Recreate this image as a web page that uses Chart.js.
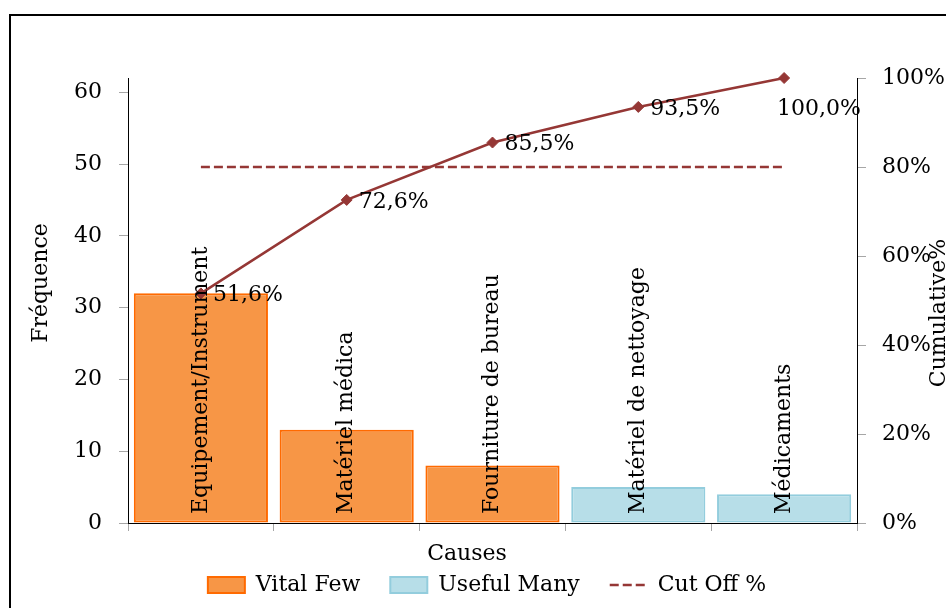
<!DOCTYPE html>
<html lang="fr">
<head>
    <meta charset="UTF-8">
    <title>Diagramme de Pareto</title>
    <script src="https://cdn.jsdelivr.net/npm/chart.js"></script>
    <style>
        html, body { margin: 0; padding: 0; background: #fff; overflow: hidden; }
        #wrap { position: relative; width: 946px; height: 608px; }
        #frame { position: absolute; left: 9px; top: 14px; width: 1000px; height: 700px; border: 2px solid #000; pointer-events: none; }
    </style>
</head>
<body>
    <div id="wrap">
        <div id="frame"></div>
        <canvas id="paretoChart"></canvas>
    </div>

    <script>
        // Données
        const categories = ['Equipement/Instrument', 'Matériel médica', 'Fourniture de bureau', 'Matériel de nettoyage', 'Médicaments'];
        const vitalFew = [32, 13, 8, null, null];
        const usefulMany = [null, null, null, 5, 4];
        const cumulative = [51.6, 72.6, 85.5, 93.5, 100.0];
        const cutOff = [80, 80, 80, 80, 80];
        const freqMax = 62;

        const FONT = '"DejaVu Serif", serif';
        const SIZE = 22;
        Chart.defaults.font.family = FONT;
        Chart.defaults.font.size = SIZE;
        Chart.defaults.color = '#000';

        const red = '#953735';

        // Writes category names inside the bars, % labels and the axis titles
        const textPlugin = {
            id: 'textPlugin',
            afterDatasetsDraw(chart) {
                const { ctx, chartArea } = chart;
                const x = chart.scales.x;
                ctx.save();
                ctx.font = SIZE + 'px ' + FONT;
                ctx.fillStyle = '#000';

                categories.forEach((name, i) => {
                    ctx.save();
                    ctx.translate(x.getPixelForValue(i), chartArea.bottom - 9);
                    ctx.rotate(-Math.PI / 2);
                    ctx.textAlign = 'left';
                    ctx.textBaseline = 'middle';
                    ctx.fillText(name, 0, 0);
                    ctx.restore();
                });

                const points = chart.getDatasetMeta(3).data;
                ctx.textAlign = 'left';
                ctx.textBaseline = 'middle';
                points.forEach((pt, i) => {
                    const txt = cumulative[i].toFixed(1).replace('.', ',') + '%';
                    if (i === points.length - 1) {
                        ctx.fillText(txt, pt.x - 7, pt.y + 31);
                    } else {
                        ctx.fillText(txt, pt.x + 12, pt.y + 2);
                    }
                });

                // axis titles
                ctx.textBaseline = 'alphabetic';
                ctx.textAlign = 'center';
                ctx.fillText('Causes', 467, 560);
                [['Fréquence', 47, 283], ['Cumulative%', 945, 313]].forEach(([t, tx, ty]) => {
                    ctx.save();
                    ctx.translate(tx, ty);
                    ctx.rotate(-Math.PI / 2);
                    ctx.fillText(t, 0, 0);
                    ctx.restore();
                });
                ctx.restore();
            }
        };

        const tickGrid = { drawOnChartArea: false, drawTicks: true, tickLength: 9, color: '#a6a6a6' };

        new Chart(document.getElementById('paretoChart'), {
            type: 'bar',
            data: {
                labels: categories,
                datasets: [
                    {
                        label: 'Vital Few',
                        data: vitalFew,
                        backgroundColor: '#F79646',
                        borderColor: '#FF6A00',
                        borderWidth: 2,
                        borderSkipped: false,
                        grouped: false,
                        barPercentage: 0.92,
                        categoryPercentage: 1,
                        yAxisID: 'y',
                        order: 2
                    },
                    {
                        label: 'Useful Many',
                        data: usefulMany,
                        backgroundColor: '#B7DEE8',
                        borderColor: '#93CDDD',
                        borderWidth: 2,
                        borderSkipped: false,
                        grouped: false,
                        barPercentage: 0.92,
                        categoryPercentage: 1,
                        yAxisID: 'y',
                        order: 2
                    },
                    {
                        type: 'line',
                        label: 'Cut Off %',
                        data: cutOff,
                        yAxisID: 'y1',
                        borderColor: red,
                        borderWidth: 2.5,
                        borderDash: [9, 4],
                        pointRadius: 0,
                        order: 1
                    },
                    {
                        type: 'line',
                        label: 'Cumulative%',
                        data: cumulative,
                        yAxisID: 'y1',
                        borderColor: red,
                        backgroundColor: red,
                        borderWidth: 2.5,
                        pointStyle: 'rectRot',
                        pointRadius: 5.5,
                        pointBorderWidth: 1,
                        tension: 0,
                        clip: 10,
                        order: 0
                    }
                ]
            },
            options: {
                responsive: true,
                maintainAspectRatio: false,
                animation: false,
                layout: { padding: { top: 78, left: 28, right: 0, bottom: 2 } },
                plugins: {
                    tooltip: { enabled: false },
                    legend: {
                        position: 'bottom',
                        labels: {
                            usePointStyle: true,
                            pointStyleWidth: 37,
                            boxHeight: 16,
                            padding: 30,
                            color: '#000',
                            font: { size: SIZE },
                            generateLabels: chart => chart.data.datasets
                                .map((ds, i) => ({
                                    text: ds.label,
                                    datasetIndex: i,
                                    fillStyle: ds.backgroundColor || 'transparent',
                                    strokeStyle: ds.borderColor,
                                    lineWidth: ds.borderWidth,
                                    lineDash: ds.borderDash || [],
                                    pointStyle: ds.type === 'line' ? 'line' : 'rect',
                                    hidden: false
                                }))
                                .filter(item => item.text !== 'Cumulative%')
                        }
                    }
                },
                scales: {
                    x: {
                        grid: { offset: true, drawOnChartArea: false, drawTicks: true, tickLength: 8, color: '#a6a6a6' },
                        border: { color: '#000', width: 1 },
                        ticks: { display: false },
                        afterFit: scale => { scale.height = 21; }
                    },
                    y: {
                        position: 'left',
                        min: 0,
                        max: freqMax,
                        grid: tickGrid,
                        border: { color: '#000', width: 1 },
                        ticks: { stepSize: 10, includeBounds: false, padding: 17 },
                        afterFit: scale => { scale.width = 100; }
                    },
                    y1: {
                        position: 'right',
                        min: 0,
                        max: 100,
                        grid: tickGrid,
                        border: { color: '#000', width: 1 },
                        ticks: { stepSize: 20, padding: 16, callback: v => v + '%' },
                        afterFit: scale => { scale.width = 89; }
                    }
                }
            },
            plugins: [textPlugin]
        });
    </script>
</body>
</html>
